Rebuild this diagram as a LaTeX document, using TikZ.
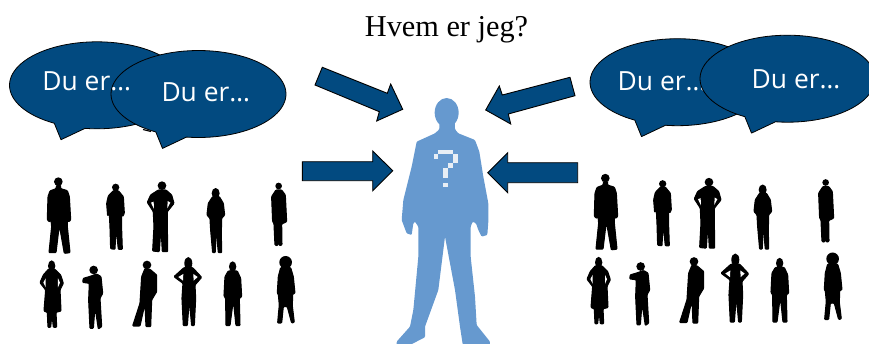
\documentclass[tikz,border=0pt]{standalone}
\usepackage{fontspec}
\setmainfont{Liberation Serif}
\newfontfamily\bubblefont{Open Sans}
\definecolor{navy}{HTML}{024A80}
\definecolor{person}{HTML}{6699CF}
\definecolor{qmark}{HTML}{E8EEF5}
\tikzset{
  bubbleshape/.style={fill=navy,draw=black,line width=0.8pt,line join=round},
  arrowshape/.style={fill=navy,draw=black,line width=0.9pt,line join=miter},
  bubbletext/.style={text=white,font=\bubblefont\fontsize{26.4}{30}\selectfont,anchor=base,inner sep=0pt},
  sil/.style={fill=black,draw=black,line width=1.1pt,line join=round,rounded corners=0.8pt},
  gap/.style={fill=white},
  pix/.style={fill=qmark}
}
\newcommand{\speech}[2]{%
  \draw[bubbleshape] plot[domain=97.9:-240.8,samples=90] ({#1+87.5*cos(\x)},{#2+43.5*sin(\x)}) -- ({#1-36},{#2+54.4}) -- cycle;}
\newcommand{\crowd}{%
  % row 1
  \fill (85,35) circle (13);
  \path[sil] (80,46)--(92,46)--(92,56)--(112,62)--(118,80)--(122,150)--(115,156)--(113,130)--(112,170)--(120,248)--(103,250)--(88,165)--(78,248)--(57,248)--(65,170)--(62,140)--(60,156)--(52,150)--(54,80)--(60,63)--(78,56)--cycle;
  \fill (257,52) circle (11);
  \path[sil] (250,62)--(265,62)--(280,80)--(283,130)--(278,140)--(275,125)--(275,180)--(277,238)--(265,238)--(258,170)--(255,238)--(242,236)--(240,170)--(238,130)--(233,138)--(230,100)--(235,78)--cycle;
  \fill (396,47) circle (13);
  \path[sil] (385,60)--(408,60)--(425,75)--(432,100)--(412,125)--(412,160)--(413,245)--(397,245)--(393,170)--(388,245)--(368,243)--(372,170)--(370,125)--(352,97)--(362,75)--cycle;
  \fill[gap] (363,98)--(372,117)--(371,95)--cycle;
  \fill[gap] (421,98)--(412,115)--(413,93)--cycle;
  \fill (557,70) ellipse (12 and 16);
  \path[sil] (548,80)--(568,80)--(580,100)--(584,135)--(575,145)--(574,190)--(575,248)--(565,248)--(558,170)--(556,248)--(548,248)--(542,180)--(540,145)--(531,135)--(535,100)--cycle;
  \fill (746,48) circle (10);
  \path[sil] (738,60)--(755,60)--(766,75)--(770,155)--(755,162)--(756,225)--(748,227)--(745,185)--(743,227)--(735,225)--(732,160)--(728,155)--(725,80)--cycle;
  % row 2
  \fill (65,288) ellipse (11 and 17);
  \path[sil] (55,298)--(75,298)--(92,315)--(100,340)--(90,360)--(93,423)--(78,427)--(80,472)--(70,472)--(66,430)--(62,472)--(54,472)--(52,427)--(42,423)--(47,360)--(30,338)--(40,315)--cycle;
  \fill[gap] (40,338)--(47,352)--(47,325)--cycle;
  \fill[gap] (90,338)--(84,352)--(84,325)--cycle;
  \fill (191,300) circle (13);
  \path[sil] (160,325)--(178,320)--(200,312)--(213,320)--(218,370)--(210,385)--(215,470)--(205,477)--(195,410)--(190,475)--(180,475)--(176,390)--(178,340)--(158,337)--cycle;
  \fill (351,285) circle (13);
  \path[sil] (345,296)--(360,298)--(380,315)--(380,365)--(365,390)--(362,470)--(348,470)--(345,400)--(330,468)--(308,468)--(330,400)--(335,320)--cycle;
  \fill (475,280) ellipse (12 and 19);
  \path[sil] (462,293)--(488,293)--(515,322)--(495,345)--(497,385)--(493,467)--(485,467)--(478,390)--(472,467)--(460,467)--(456,385)--(459,340)--(432,320)--cycle;
  \fill[gap] (445,321)--(459,332)--(460,312)--cycle;
  \fill[gap] (503,321)--(491,332)--(490,312)--cycle;
  \fill (608,290) ellipse (11 and 16);
  \path[sil] (595,303)--(622,303)--(632,325)--(635,380)--(628,385)--(630,467)--(618,467)--(610,390)--(600,467)--(588,467)--(587,385)--(582,378)--(585,320)--cycle;
  \fill (767,277) circle (19);
  \path[sil] (752,293)--(782,293)--(790,320)--(795,370)--(788,372)--(787,408)--(793,457)--(785,459)--(772,410)--(760,410)--(755,459)--(743,459)--(748,405)--(745,372)--(742,370)--(745,320)--cycle;
}
\begin{document}
\begin{tikzpicture}[x=1pt,y=-1pt]
\useasboundingbox (0,0) rectangle (869,343);
\clip (0,0) rectangle (869,343);
% title
\node[font=\fontsize{30.3}{34}\selectfont,anchor=base,inner sep=0pt,text=black] (title) at (446.5,36) {Hvem er jeg?};
% crowds
\begin{scope}[shift={(30,170)},x=0.3333pt,y=-0.3333pt]\crowd\end{scope}
\begin{scope}[shift={(577,166.5)},x=0.3333pt,y=-0.3333pt]\crowd\end{scope}
% central person
\begin{scope}[shift={(380,90)},x=0.3333pt,y=-0.3333pt]
\fill[person] (200,68) ellipse (36 and 44);
\path[fill=person,rounded corners=1pt] (178,95)--(225,95)--(225,118)--(235,130)--(285,150)--(298,185)--(310,260)--(325,340)--(325,395)--(322,435)--(305,440)--(295,420)--(288,400)--(278,395)--(272,410)--(272,500)--(285,620)--(290,705)--(330,755)--(330,775)--(250,775)--(240,710)--(225,600)--(195,440)--(175,600)--(135,710)--(135,742)--(70,775)--(50,775)--(50,755)--(90,710)--(100,660)--(115,500)--(115,410)--(105,395)--(100,400)--(95,435)--(80,430)--(65,390)--(70,330)--(95,230)--(110,155)--(165,130)--(178,118)--cycle;
\fill[pix] (175,179) rectangle (220,192);
\fill[pix] (161,192) rectangle (175,206);
\fill[pix] (220,192) rectangle (234,220);
\fill[pix] (205,220) rectangle (220,235);
\fill[pix] (190,235) rectangle (205,264);
\fill[pix] (190,278) rectangle (205,292);
\end{scope}
% arrows
\draw[arrowshape] (322.3,67.3)--(387.3,93.3)--(390.7,84)--(402.7,109.3)--(376.7,121)--(379.3,111.7)--(315,85)--cycle;
\draw[arrowshape] (302.3,161.7)--(372.7,161.7)--(372.7,151)--(392.7,170.7)--(372.7,190.7)--(372.7,180.7)--(302.3,180.7)--cycle;
\draw[arrowshape] (570,77.3)--(502.3,95)--(499.3,86)--(485.7,110)--(510.7,124)--(508.3,114)--(575,95.7)--cycle;
\draw[arrowshape] (577.7,162.7)--(507.7,162.7)--(507.7,152.7)--(487.7,172.7)--(507.7,192.7)--(507.7,182.7)--(577.7,182.7)--cycle;
% bubbles left
\speech{97}{85.3}
\draw[black,line width=1.2pt] (143,129.5)--(151,131.5);
\speech{198.5}{94}
\node[bubbletext] (la) at (86.7,90) {Du er\dots};
\node[bubbletext] (lb) at (205.8,101.7) {Du er\dots};
% bubbles right
\speech{677.5}{82.2}
\node[bubbletext] (ra) at (662,90) {Du er\dots};
\speech{787.5}{78.7}
\node[bubbletext] (rb) at (796,88) {Du er\dots};
\end{tikzpicture}
\end{document}
